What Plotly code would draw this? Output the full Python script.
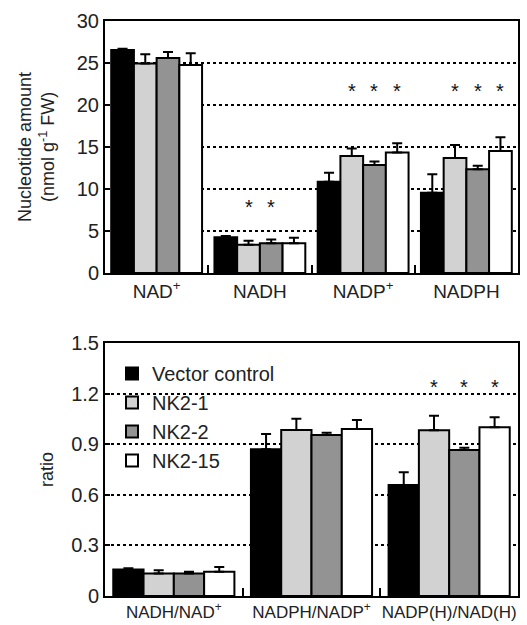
import plotly.graph_objects as go

# ---------------- data ----------------
groups = ["Vector control", "NK2-1", "NK2-2", "NK2-15"]
colors = ["#000000", "#d2d2d2", "#939393", "#ffffff"]

top_cats = ["NAD<sup>+</sup>", "NADH", "NADP<sup>+</sup>", "NADPH"]
top_vals = {
    "Vector control": [26.55, 4.25, 10.87, 9.56],
    "NK2-1":          [24.95, 3.35, 13.93, 13.69],
    "NK2-2":          [25.60, 3.53, 12.86, 12.34],
    "NK2-15":         [24.75, 3.53, 14.35, 14.52],
}
top_err = {
    "Vector control": [0.15, 0.15, 1.07, 2.2],
    "NK2-1":          [1.10, 0.50, 0.90, 1.55],
    "NK2-2":          [0.70, 0.47, 0.40, 0.44],
    "NK2-15":         [1.40, 0.67, 1.10, 1.63],
}
# significance marks: (category index, group index)
top_sig = [(1, 1), (1, 2), (2, 1), (2, 2), (2, 3), (3, 1), (3, 2), (3, 3)]
top_sig_y = {1: 7.8, 2: 21.7, 3: 21.7}

bot_cats = ["NADH/NAD<sup>+</sup>", "NADPH/NADP<sup>+</sup>", "NADP(H)/NAD(H)"]
bot_vals = {
    "Vector control": [0.157, 0.870, 0.658],
    "NK2-1":          [0.134, 0.984, 0.982],
    "NK2-2":          [0.134, 0.955, 0.866],
    "NK2-15":         [0.144, 0.990, 1.000],
}
bot_err = {
    "Vector control": [0.008, 0.090, 0.075],
    "NK2-1":          [0.018, 0.067, 0.087],
    "NK2-2":          [0.010, 0.013, 0.013],
    "NK2-15":         [0.028, 0.053, 0.060],
}
bot_sig = [(2, 1), (2, 2), (2, 3)]
bot_sig_y = 1.242

top_ticks = [0, 5, 10, 15, 20, 25, 30]
bot_ticks = [0, 0.3, 0.6, 0.9, 1.2, 1.5]
bot_ticklabels = ["0", "0.3", "0.6", "0.9", "1.2", "1.5"]

# ---------------- figure ----------------
FONT = "Liberation Sans, Arial, sans-serif"
BARGAP = 0.12
W = (1 - BARGAP) / len(groups)

fig = go.Figure()
for k, g in enumerate(groups):
    fig.add_trace(go.Bar(
        x=top_cats, y=top_vals[g], name=g, showlegend=False,
        marker=dict(color=colors[k], line=dict(color="#000", width=2)),
        error_y=dict(type="data", symmetric=False, array=top_err[g],
                     arrayminus=[0] * len(top_cats), color="#000", thickness=2, width=5),
        xaxis="x", yaxis="y",
    ))
for k, g in enumerate(groups):
    fig.add_trace(go.Bar(
        x=bot_cats, y=bot_vals[g], name=g, showlegend=True,
        marker=dict(color=colors[k], line=dict(color="#000", width=2)),
        error_y=dict(type="data", symmetric=False, array=bot_err[g],
                     arrayminus=[0] * len(bot_cats), color="#000", thickness=2, width=5),
        xaxis="x2", yaxis="y2",
    ))

annotations = []
for (ci, gi) in top_sig:
    annotations.append(dict(x=ci + (gi - 1.5) * W, y=top_sig_y[ci], xref="x", yref="y",
                            text="*", showarrow=False, font=dict(size=20, color="#111", family=FONT),
                            yanchor="middle"))
for (ci, gi) in bot_sig:
    annotations.append(dict(x=ci + (gi - 1.5) * W, y=bot_sig_y, xref="x2", yref="y2",
                            text="*", showarrow=False, font=dict(size=20, color="#111", family=FONT),
                            yanchor="middle"))
# y-axis titles
annotations.append(dict(x=37 / 527, y=(1 - 147 / 625), xref="paper", yref="paper",
                        text="Nucleotide amount<br>(nmol g<sup>-1</sup> FW)", textangle=-90,
                        showarrow=False, font=dict(size=18, color="#222", family=FONT),
                        xanchor="center", yanchor="middle"))
annotations.append(dict(x=47 / 527, y=(1 - 470 / 625), xref="paper", yref="paper",
                        text="ratio", textangle=-90,
                        showarrow=False, font=dict(size=18, color="#222", family=FONT),
                        xanchor="center", yanchor="middle"))

xdom = [105 / 527, 518 / 527]
xaxis_common = dict(type="category", showline=True, linecolor="#000", linewidth=2, mirror=True,
                    ticks="inside", ticklen=8, tickwidth=2, tickcolor="#000", tickson="boundaries",
                    tickangle=0, showgrid=False, zeroline=False, domain=xdom, automargin=False)
yaxis_common = dict(showline=True, linecolor="#000", linewidth=2, mirror=True,
                    ticks="inside", ticklen=5, tickwidth=2, tickcolor="#000",
                    showgrid=True, gridcolor="#000", griddash="dot", gridwidth=1.5,
                    zeroline=False, automargin=False,
                    tickfont=dict(size=20, color="#222", family=FONT))

fig.update_layout(
    template="none",
    width=527, height=625,
    margin=dict(l=0, r=0, t=0, b=0, pad=0),
    paper_bgcolor="white", plot_bgcolor="white",
    barmode="group", bargap=BARGAP, bargroupgap=0,
    font=dict(family=FONT, color="#222"),
    xaxis=dict(**xaxis_common, anchor="y", range=[-0.5, len(top_cats) - 0.5],
               tickfont=dict(size=19, color="#222", family=FONT)),
    yaxis=dict(**yaxis_common, anchor="x", domain=[1 - 273 / 625, 1 - 21 / 625],
               range=[0, 30], tickvals=top_ticks),
    xaxis2=dict(**xaxis_common, anchor="y2", range=[-0.5, len(bot_cats) - 0.5],
                tickfont=dict(size=17, color="#222", family=FONT)),
    yaxis2=dict(**yaxis_common, anchor="x2", domain=[1 - 596 / 625, 1 - 343 / 625],
                range=[0, 1.5], tickvals=bot_ticks, ticktext=bot_ticklabels),
    legend=dict(x=112 / 527, y=1 - 354 / 625, xanchor="left", yanchor="top",
                bgcolor="rgba(0,0,0,0)", font=dict(size=20, color="#222", family=FONT),
                tracegroupgap=0, borderwidth=0),
    annotations=annotations,
)

fig.write_html("out.html")
